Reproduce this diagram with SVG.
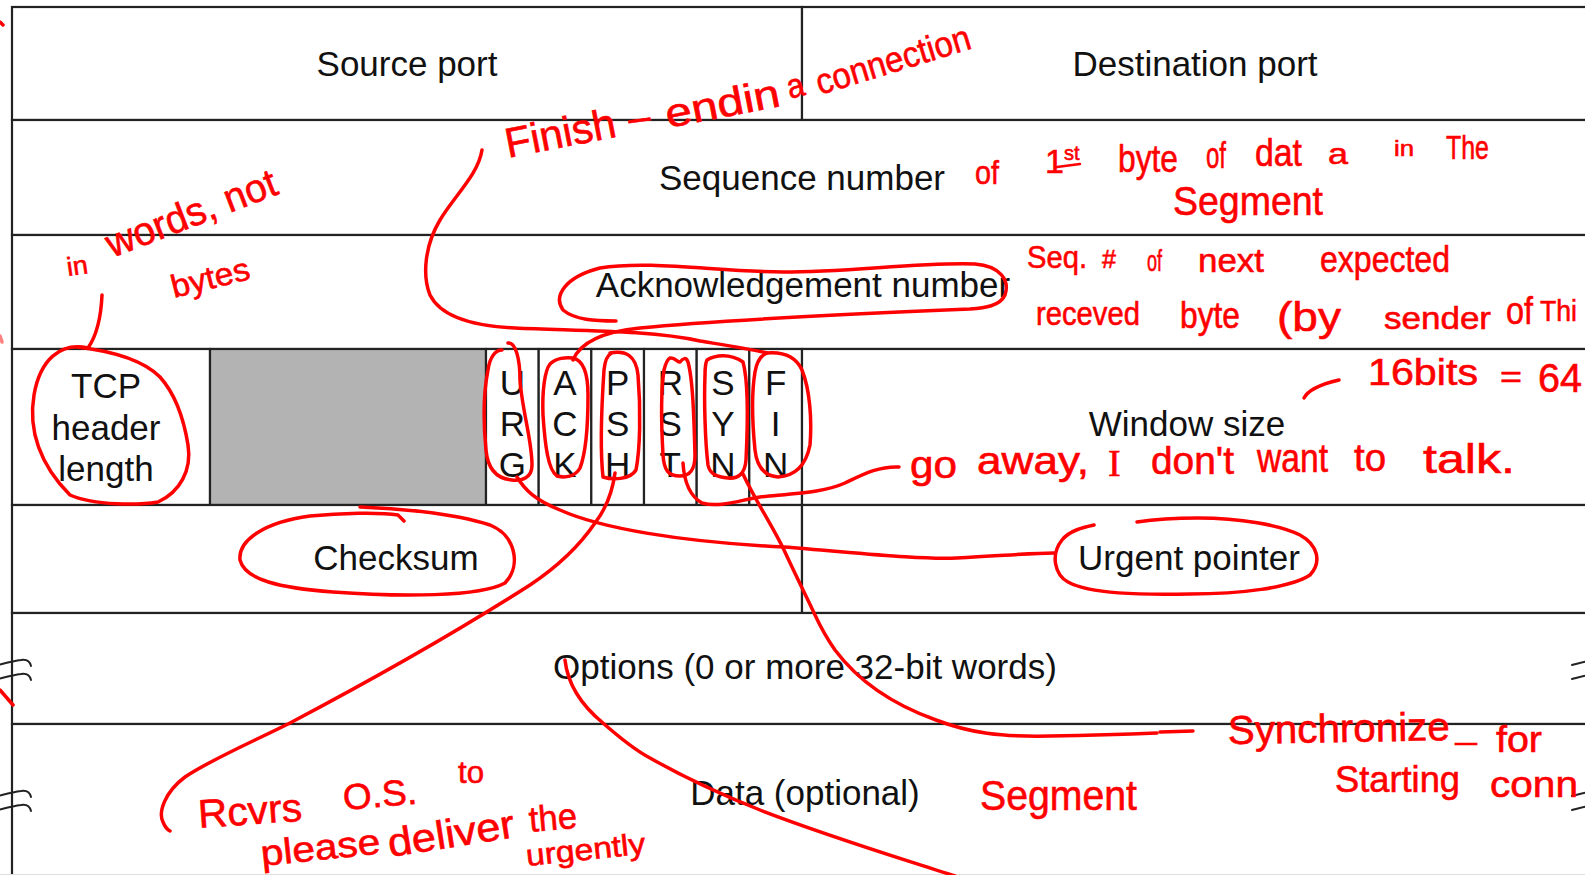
<svg xmlns="http://www.w3.org/2000/svg" width="1585" height="875" viewBox="0 0 1585 875">
  <defs>
    <style>
      .cell { fill: #ffffff; stroke: #222222; stroke-width: 2.2; }
      .gray { fill: #b3b3b3; stroke: #222222; stroke-width: 2.2; }
      .lbl { font-family: "Liberation Sans", Arial, sans-serif; font-size: 35px; fill: #111111; text-anchor: middle; }
      .brk { fill: none; stroke: #222222; stroke-width: 2; stroke-linecap: round; }
      .ink { fill: none; stroke: #ff0000; stroke-width: 3.5; stroke-linecap: round; stroke-linejoin: round; }
      .hw { font-family: "Liberation Sans", Arial, sans-serif; fill: #ff0000; stroke: #ff0000; stroke-width: 0.6; }
      .hws { font-family: "Liberation Serif", "Times New Roman", serif; fill: #ff0000; stroke: #ff0000; stroke-width: 0.6; }
    </style>
  </defs>

  <rect x="0" y="0" width="1585" height="875" fill="#ffffff"/>

  <!-- TCP header fields -->
  <g id="source-port">
    <rect class="cell" x="12" y="7" width="790" height="113"/>
    <text class="lbl" x="407" y="76">Source port</text>
  </g>
  <g id="destination-port">
    <rect class="cell" x="802" y="7" width="790" height="113"/>
    <text class="lbl" x="1195" y="76">Destination port</text>
  </g>
  <g id="sequence-number">
    <rect class="cell" x="12" y="120" width="1580" height="115"/>
    <text class="lbl" x="802" y="190">Sequence number</text>
  </g>
  <g id="ack-number">
    <rect class="cell" x="12" y="235" width="1580" height="114"/>
    <text class="lbl" x="803" y="297">Acknowledgement number</text>
  </g>
  <g id="header-length">
    <rect class="cell" x="12" y="349" width="198" height="156"/>
    <text class="lbl" x="106" y="398">TCP</text>
    <text class="lbl" x="106" y="440">header</text>
    <text class="lbl" x="106" y="481">length</text>
  </g>
  <g id="reserved">
    <rect class="gray" x="210" y="349" width="276" height="156"/>
  </g>
  <g id="flag-urg">
    <rect class="cell" x="486" y="349" width="52.7" height="156"/>
    <text class="lbl" x="512.3" y="395">U</text><text class="lbl" x="512.3" y="436">R</text><text class="lbl" x="512.3" y="477">G</text>
  </g>
  <g id="flag-ack">
    <rect class="cell" x="538.7" y="349" width="52.7" height="156"/>
    <text class="lbl" x="565" y="395">A</text><text class="lbl" x="565" y="436">C</text><text class="lbl" x="565" y="477">K</text>
  </g>
  <g id="flag-psh">
    <rect class="cell" x="591.3" y="349" width="52.7" height="156"/>
    <text class="lbl" x="617.7" y="395">P</text><text class="lbl" x="617.7" y="436">S</text><text class="lbl" x="617.7" y="477">H</text>
  </g>
  <g id="flag-rst">
    <rect class="cell" x="644" y="349" width="52.7" height="156"/>
    <text class="lbl" x="670.3" y="395">R</text><text class="lbl" x="670.3" y="436">S</text><text class="lbl" x="670.3" y="477">T</text>
  </g>
  <g id="flag-syn">
    <rect class="cell" x="696.7" y="349" width="52.7" height="156"/>
    <text class="lbl" x="723" y="395">S</text><text class="lbl" x="723" y="436">Y</text><text class="lbl" x="723" y="477">N</text>
  </g>
  <g id="flag-fin">
    <rect class="cell" x="749.3" y="349" width="52.7" height="156"/>
    <text class="lbl" x="775.7" y="395">F</text><text class="lbl" x="775.7" y="436">I</text><text class="lbl" x="775.7" y="477">N</text>
  </g>
  <g id="window-size">
    <rect class="cell" x="802" y="349" width="790" height="156"/>
    <text class="lbl" x="1187" y="436">Window size</text>
  </g>
  <g id="checksum">
    <rect class="cell" x="12" y="505" width="790" height="108"/>
    <text class="lbl" x="396" y="570">Checksum</text>
  </g>
  <g id="urgent-pointer">
    <rect class="cell" x="802" y="505" width="790" height="108"/>
    <text class="lbl" x="1189" y="570">Urgent pointer</text>
  </g>
  <g id="options">
    <rect class="cell" x="12" y="613" width="1580" height="111"/>
    <text class="lbl" x="805" y="679">Options (0 or more 32-bit words)</text>
  </g>
  <g id="data">
    <rect class="cell" x="12" y="724" width="1580" height="170"/>
    <text class="lbl" x="805" y="805">Data (optional)</text>
  </g>

  <!-- break symbols on the side borders -->
  <g id="breaks">
    <path class="brk" d="M -2 665 C 6 663, 13 661, 21 660 C 27 659, 30 662, 31 666"/>
    <path class="brk" d="M -2 679 C 6 677, 13 675, 21 674 C 27 673, 30 676, 31 680"/>
    <path class="brk" d="M -2 796 C 6 794, 13 792, 21 791 C 27 790, 30 793, 31 797"/>
    <path class="brk" d="M -2 810 C 6 808, 13 806, 21 805 C 27 804, 30 807, 31 811"/>
    <path class="brk" d="M 1572 665 C 1580 663, 1587 661, 1595 660 C 1601 659, 1604 662, 1605 666"/>
    <path class="brk" d="M 1572 679 C 1580 677, 1587 675, 1595 674 C 1601 673, 1604 676, 1605 680"/>
    <path class="brk" d="M 1572 796 C 1580 794, 1587 792, 1595 791 C 1601 790, 1604 793, 1605 797"/>
    <path class="brk" d="M 1572 810 C 1580 808, 1587 806, 1595 805 C 1601 804, 1604 807, 1605 811"/>
  </g>
  <line x1="0" y1="874.5" x2="1585" y2="874.5" stroke="#dddddd" stroke-width="1"/>

  <!-- red ink: loops and leader strokes -->
  <g id="connectors">
    <!-- header length -->
    <path class="ink" d="M 102 295 C 101 318, 97 335, 88 348"/>
    <path class="ink" d="M 88 348 C 60 342, 40 360, 34 395 C 28 430, 40 465, 70 495 C 95 506, 140 505, 158 502 C 180 492, 192 470, 188 445 C 184 420, 176 395, 160 377 C 145 362, 120 352, 77 347"/>
    <!-- checksum -->
    <path class="ink" d="M 360 507 C 390 508, 450 512, 490 525 C 515 535, 522 565, 505 583 C 480 597, 400 597, 333 592 C 280 588, 245 580, 240 560 C 238 540, 265 522, 310 516 C 340 513, 380 512, 398 515 L 404 521"/>
    <!-- acknowledgement number, tied to ACK -->
    <path class="ink" d="M 616 321 C 595 321, 575 320, 563 310 C 553 296, 565 277, 600 268 C 650 260, 720 272, 783 272 C 850 272, 920 262, 975 264 C 1000 266, 1010 280, 1005 295 C 1000 306, 985 308, 970 309 C 850 314, 700 322, 640 328 C 600 332, 580 343, 573 360"/>
    <!-- finish leader to FIN -->
    <path class="ink" d="M 482 150 C 478 175, 455 195, 440 220 C 425 245, 422 275, 430 295 C 440 315, 470 326, 515 328 C 580 331, 650 330, 700 341 C 730 346, 755 350, 767 353"/>
    <!-- URG -->
    <path class="ink" d="M 508 343 C 516 342, 520 360, 520 380 C 522 410, 532 440, 532 465 C 532 478, 522 481, 512 480 C 500 479, 488 472, 486 450 C 483 420, 484 390, 488 370 C 490 356, 496 350, 502 350"/>
    <path class="ink" d="M 517 477 C 525 490, 535 500, 560 510 C 600 528, 680 542, 784 547 C 850 552, 920 560, 957 558 C 1000 556, 1030 553, 1054 553"/>
    <!-- ACK -->
    <path class="ink" d="M 573 358 C 582 360, 588 370, 588 395 C 588 420, 587 450, 580 468 C 575 477, 565 478, 557 476 C 548 470, 545 445, 543 415 C 542 390, 545 370, 550 364 C 556 358, 566 357, 573 358"/>
    <!-- PSH -->
    <path class="ink" d="M 610 353 C 625 350, 636 355, 638 375 C 641 410, 640 450, 636 470 C 630 480, 612 480, 603 477 C 600 450, 602 400, 604 370 C 605 360, 607 355, 612 353"/>
    <path class="ink" d="M 615 473 C 612 495, 605 510, 595 523 C 580 545, 560 565, 530 585 C 480 617, 400 665, 290 723 C 250 743, 210 760, 185 777 C 165 792, 158 812, 163 822 C 165 827, 168 830, 170 831"/>
    <!-- RST -->
    <path class="ink" d="M 670 358 C 675 357, 678 363, 680 362 C 683 358, 686 357, 688 362 C 693 380, 694 420, 695 455 C 695 470, 690 476, 680 476 C 668 476, 664 470, 663 455 C 661 420, 661 390, 664 370 C 666 362, 668 359, 670 358"/>
    <path class="ink" d="M 683 463 C 684 480, 688 495, 702 503 C 720 508, 740 500, 760 497 C 800 493, 825 492, 845 483 C 862 475, 878 466, 899 467"/>
    <!-- SYN -->
    <path class="ink" d="M 707 360 C 715 355, 730 353, 743 362 C 748 380, 748 420, 746 460 C 745 474, 738 479, 728 478 C 718 477, 710 475, 708 465 C 705 440, 704 400, 705 375 C 705 366, 706 362, 707 360"/>
    <path class="ink" d="M 743 474 C 755 500, 772 525, 784 550 C 797 578, 808 600, 815 615 C 822 630, 828 640, 835 650 C 850 670, 880 700, 936 720 C 970 733, 1000 737, 1050 736 C 1100 735, 1130 734, 1157 733"/>
    <path class="ink" d="M 1160 732 L 1193 731"/>
    <!-- FIN -->
    <path class="ink" d="M 767 353 C 780 352, 795 355, 802 370 C 810 390, 812 420, 810 445 C 806 465, 795 476, 778 477 C 765 476, 757 468, 755 450 C 752 420, 752 390, 755 372 C 757 360, 762 355, 767 353"/>
    <!-- urgent pointer -->
    <path class="ink" d="M 1094 525 C 1085 527, 1070 530, 1062 540 C 1050 555, 1055 575, 1068 582 C 1090 594, 1140 595, 1190 594 C 1240 594, 1290 588, 1310 575 C 1322 562, 1318 545, 1300 535 C 1280 525, 1240 518, 1198 518 C 1170 518, 1150 520, 1137 522"/>
    <!-- options leader -->
    <path class="ink" d="M 565 660 C 567 678, 575 700, 603 723 C 620 738, 635 750, 650 758 C 680 775, 710 790, 760 810 C 830 837, 900 858, 955 876"/>
    <!-- window size tick -->
    <path class="ink" d="M 1304 398 C 1308 390, 1322 384, 1339 380"/>
    <!-- underline of the ordinal -->
    <path class="ink" d="M 1057 167 L 1080 164" style="stroke-width:2.5"/>
    <!-- marks at the left edge -->
    <path class="ink" d="M 0 22 L 3 25"/>
    <path class="ink" d="M 0 336 L 2 342" style="stroke:#ff8080"/>
    <path class="ink" d="M 0 690 L 13 705"/>
  </g>

  <!-- red ink: handwritten notes -->
  <g id="notes">
    <text class="hw" x="68" y="276" font-size="26" textLength="21" lengthAdjust="spacingAndGlyphs" transform="rotate(-8 68 276)">in</text>
    <text class="hw" x="112" y="258" font-size="40" textLength="180" lengthAdjust="spacingAndGlyphs" transform="rotate(-21 112 258)">words, not</text>
    <text class="hw" x="174" y="298" font-size="32" textLength="80" lengthAdjust="spacingAndGlyphs" transform="rotate(-14 174 298)">bytes</text>

    <text class="hw" x="508" y="158" font-size="42" textLength="112" lengthAdjust="spacingAndGlyphs" transform="rotate(-11 508 158)">Finish</text>
    <text class="hw" x="630" y="132" font-size="40" textLength="22" lengthAdjust="spacingAndGlyphs" transform="rotate(-8 630 132)">–</text>
    <text class="hw" x="668" y="128" font-size="40" textLength="116" lengthAdjust="spacingAndGlyphs" transform="rotate(-11 668 128)">endin</text>
    <text class="hw" x="790" y="99" font-size="34" textLength="17" lengthAdjust="spacingAndGlyphs" transform="rotate(-15 790 99)">a</text>
    <text class="hw" x="820" y="95" font-size="36" textLength="160" lengthAdjust="spacingAndGlyphs" transform="rotate(-17 820 95)">connection</text>

    <text class="hw" x="975" y="184" font-size="34" textLength="24" lengthAdjust="spacingAndGlyphs">of</text>
    <text class="hw" x="1045" y="173" font-size="34">1<tspan dy="-13" font-size="20">st</tspan></text>
    <text class="hw" x="1118" y="172" font-size="38" textLength="60" lengthAdjust="spacingAndGlyphs">byte</text>
    <text class="hw" x="1206" y="168" font-size="36" textLength="20" lengthAdjust="spacingAndGlyphs">of</text>
    <text class="hw" x="1255" y="166" font-size="38" textLength="47" lengthAdjust="spacingAndGlyphs">dat</text>
    <text class="hw" x="1328" y="164" font-size="30" textLength="20" lengthAdjust="spacingAndGlyphs">a</text>
    <text class="hw" x="1394" y="156" font-size="22" textLength="20" lengthAdjust="spacingAndGlyphs">in</text>
    <text class="hw" x="1446" y="159" font-size="34" textLength="43" lengthAdjust="spacingAndGlyphs">The</text>
    <text class="hw" x="1173" y="215" font-size="40" textLength="150" lengthAdjust="spacingAndGlyphs">Segment</text>

    <text class="hw" x="1027" y="268" font-size="32" textLength="60" lengthAdjust="spacingAndGlyphs">Seq.</text>
    <text class="hw" x="1102" y="268" font-size="26" textLength="14" lengthAdjust="spacingAndGlyphs">#</text>
    <text class="hw" x="1147" y="271" font-size="30" textLength="15" lengthAdjust="spacingAndGlyphs">of</text>
    <text class="hw" x="1198" y="272" font-size="34" textLength="66" lengthAdjust="spacingAndGlyphs">next</text>
    <text class="hw" x="1320" y="272" font-size="36" textLength="130" lengthAdjust="spacingAndGlyphs">expected</text>
    <text class="hw" x="1036" y="325" font-size="34" textLength="104" lengthAdjust="spacingAndGlyphs">receved</text>
    <text class="hw" x="1180" y="328" font-size="36" textLength="60" lengthAdjust="spacingAndGlyphs">byte</text>
    <text class="hw" x="1277" y="331" font-size="40" textLength="64" lengthAdjust="spacingAndGlyphs">(by</text>
    <text class="hw" x="1384" y="329" font-size="32" textLength="107" lengthAdjust="spacingAndGlyphs">sender</text>
    <text class="hw" x="1506" y="324" font-size="38" textLength="27" lengthAdjust="spacingAndGlyphs">of</text>
    <text class="hw" x="1540" y="321" font-size="30" textLength="37" lengthAdjust="spacingAndGlyphs">Thi</text>

    <text class="hw" x="1368" y="385" font-size="36" textLength="110" lengthAdjust="spacingAndGlyphs">16bits</text>
    <text class="hw" x="1500" y="387" font-size="30" textLength="22" lengthAdjust="spacingAndGlyphs">=</text>
    <text class="hw" x="1538" y="392" font-size="40" textLength="44" lengthAdjust="spacingAndGlyphs">64</text>

    <text class="hw" x="910" y="478" font-size="38" textLength="47" lengthAdjust="spacingAndGlyphs">go</text>
    <text class="hw" x="977" y="474" font-size="38" textLength="112" lengthAdjust="spacingAndGlyphs">away,</text>
    <text class="hws" x="1108" y="476" font-size="38">I</text>
    <text class="hw" x="1151" y="474" font-size="38" textLength="83" lengthAdjust="spacingAndGlyphs">don't</text>
    <text class="hw" x="1257" y="472" font-size="40" textLength="71" lengthAdjust="spacingAndGlyphs">want</text>
    <text class="hw" x="1354" y="471" font-size="38" textLength="32" lengthAdjust="spacingAndGlyphs">to</text>
    <text class="hw" x="1423" y="473" font-size="40" textLength="92" lengthAdjust="spacingAndGlyphs">talk.</text>

    <text class="hw" x="1228" y="744" font-size="40" textLength="222" lengthAdjust="spacingAndGlyphs" transform="rotate(-1 1228 744)">Synchronize</text>
    <text class="hw" x="1455" y="752" font-size="30" textLength="22" lengthAdjust="spacingAndGlyphs">–</text>
    <text class="hw" x="1496" y="752" font-size="36" textLength="46" lengthAdjust="spacingAndGlyphs">for</text>
    <text class="hw" x="1335" y="792" font-size="36" textLength="125" lengthAdjust="spacingAndGlyphs">Starting</text>
    <text class="hw" x="1490" y="797" font-size="36" textLength="88" lengthAdjust="spacingAndGlyphs">conn</text>

    <text class="hw" x="980" y="810" font-size="42" textLength="157" lengthAdjust="spacingAndGlyphs">Segment</text>

    <text class="hw" x="199" y="828" font-size="40" textLength="104" lengthAdjust="spacingAndGlyphs" transform="rotate(-4 199 828)">Rcvrs</text>
    <text class="hw" x="344" y="810" font-size="36" textLength="74" lengthAdjust="spacingAndGlyphs" transform="rotate(-5 344 810)">O.S.</text>
    <text class="hw" x="458" y="783" font-size="32" textLength="26" lengthAdjust="spacingAndGlyphs">to</text>
    <text class="hw" x="262" y="866" font-size="36" textLength="120" lengthAdjust="spacingAndGlyphs" transform="rotate(-6 262 866)">please</text>
    <text class="hw" x="390" y="857" font-size="40" textLength="128" lengthAdjust="spacingAndGlyphs" transform="rotate(-9 390 857)">deliver</text>
    <text class="hw" x="530" y="832" font-size="36" textLength="48" lengthAdjust="spacingAndGlyphs" transform="rotate(-5 530 832)">the</text>
    <text class="hw" x="527" y="866" font-size="30" textLength="120" lengthAdjust="spacingAndGlyphs" transform="rotate(-6 527 866)">urgently</text>
  </g>
</svg>
